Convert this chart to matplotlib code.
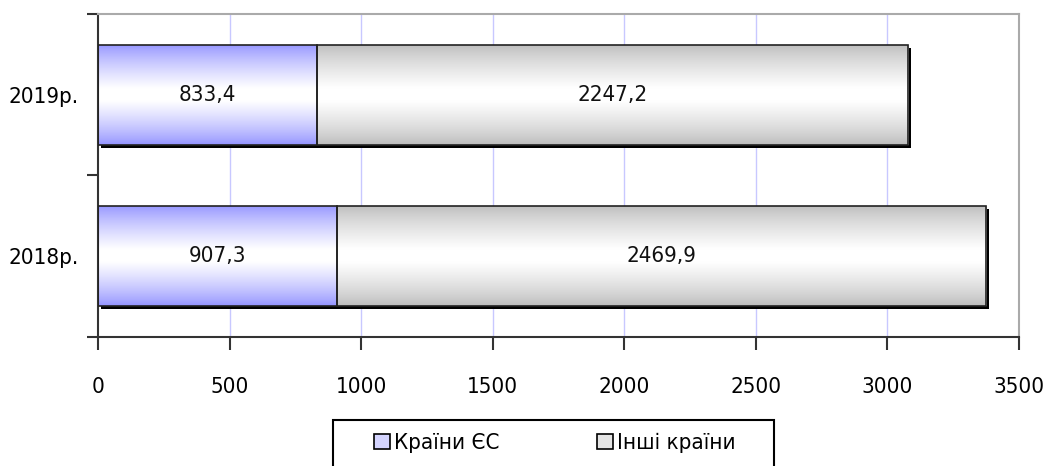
import numpy as np
import matplotlib
matplotlib.use("Agg")
import matplotlib.pyplot as plt
from matplotlib.patches import Patch, Rectangle
from matplotlib import patheffects as pe

# дані
years = ["2018р.", "2019р."]
eu = [907.3, 833.4]
other = [2469.9, 2247.2]
series_names = ["Країни ЄС", "Інші країни"]
xticks = [0, 500, 1000, 1500, 2000, 2500, 3000, 3500]

plt.rcParams['font.family'] = ['DejaVu Sans']
plt.rcParams['font.stretch'] = 'condensed'
FS = 16

fig = plt.figure(figsize=(10.45, 4.66), dpi=100)
ax = fig.add_axes([0.0938, 0.277, 0.881, 0.693])

ypos = np.arange(len(years))
H = 0.62


def gradient_img(edge_rgb):
    # темний край -> білий центр -> темний край
    t = np.linspace(0, 1, 64)
    w = 1 - np.abs(t - 0.5) * 2
    w = np.clip(w * 1.15, 0, 1) ** 0.8
    c0 = np.array(edge_rgb)
    img = c0[None, :] * (1 - w[:, None]) + np.ones(3)[None, :] * w[:, None]
    return img[:, None, :]


blue = gradient_img((0.58, 0.58, 1.0))
gray = gradient_img((0.74, 0.74, 0.74))

shadow = [pe.SimplePatchShadow(offset=(2.2, -2.2), shadow_rgbFace='black', alpha=1.0), pe.Normal()]

for y, a, b in zip(ypos, eu, other):
    for left, width, img in [(0, a, blue), (a, b, gray)]:
        bar = ax.barh(y, width, left=left, height=H, color='white', zorder=2)[0]
        bar.set_path_effects(shadow)
        im = ax.imshow(img, extent=[left, left + width, y - H / 2, y + H / 2],
                       aspect='auto', zorder=2.5, interpolation='bilinear')
        im.set_clip_path(bar)
        ax.barh(y, width, left=left, height=H, fill=False, edgecolor='#222222',
                linewidth=1.2, zorder=3)
    ax.text(a / 2, y, f"{a:.1f}".replace('.', ','), ha='center', va='center',
            fontsize=FS, zorder=4, color='#111111')
    ax.text(a + b / 2, y, f"{b:.1f}".replace('.', ','), ha='center', va='center',
            fontsize=FS, zorder=4, color='#111111')

ax.set_xlim(0, 3500)
ax.set_ylim(-0.5, 1.5)
ax.set_xticks(xticks)
ax.set_xticklabels([str(v) for v in xticks], fontsize=FS)
for v in xticks[1:-1]:
    ax.axvline(v, color='#c8c8ff', linewidth=1, zorder=1)

ax.set_yticks([-0.5, 0.5, 1.5])
ax.set_yticklabels([])
ax.set_yticks(ypos, minor=True)
ax.set_yticklabels(years, minor=True, fontsize=FS)
ax.tick_params(axis='y', which='minor', length=0, pad=14)
ax.tick_params(axis='y', which='major', length=8, width=1.5, direction='out', color='#333333')
ax.tick_params(axis='x', length=9, width=1.5, direction='out', color='#333333', pad=20)

ax.spines['left'].set_color('#333333')
ax.spines['left'].set_linewidth(1.5)
ax.spines['bottom'].set_color('#333333')
ax.spines['bottom'].set_linewidth(1.5)
ax.spines['top'].set_color('#aaaaaa')
ax.spines['right'].set_color('#aaaaaa')
ax.spines['top'].set_linewidth(1.5)
ax.spines['right'].set_linewidth(1.5)

# рамка легенди
fig.patches.append(Rectangle((333 / 1045, -0.02), 441 / 1045, 0.02 + 1 - 420 / 466,
                             transform=fig.transFigure, fill=False,
                             edgecolor='black', linewidth=1.5))
handles = [Patch(facecolor='#d4d4ff', edgecolor='black', linewidth=1.2),
           Patch(facecolor='#e4e4e4', edgecolor='black', linewidth=1.2)]
leg = fig.legend(handles, series_names, loc='center', bbox_to_anchor=(555 / 1045, 1 - 443 / 466),
                 ncol=2, fontsize=FS, frameon=False,
                 handlelength=0.7, handleheight=0.7, handletextpad=0.2,
                 columnspacing=4.4, borderpad=0, borderaxespad=0)

fig.savefig("out.png", dpi=100)
